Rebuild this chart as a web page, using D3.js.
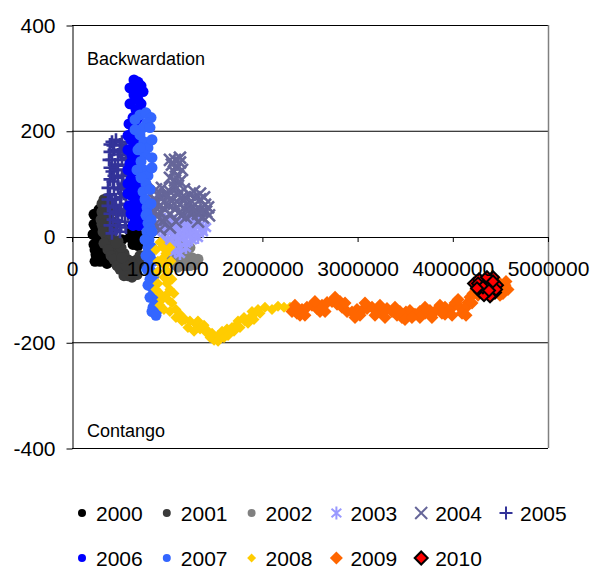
<!DOCTYPE html>
<html>
<head>
<meta charset="utf-8">
<script src="https://cdn.jsdelivr.net/npm/d3@7"></script>
<style>
body { margin: 0; background: #fff; }
text { font-family: "Liberation Sans", Arial, sans-serif; fill: #000; }
</style>
</head>
<body>
<svg width="605" height="569"></svg>
<script>
// series names, one per year
var years = ["2000", "2001", "2002", "2003", "2004", "2005", "2006", "2007", "2008", "2009", "2010"];

// [x, y] points
var y2000 = [[294000, 42], [273000, 30], [252000, 17], [252000, 4], [263000, -9], [284000, -23], [305000, -34],
  [336000, -45], [368000, -51], [347000, -36], [326000, -21], [305000, -6], [284000, 9], [305000, 25], [326000, 36],
  [357000, 21], [378000, 2], [242000, -25], [263000, -40], [294000, -47], [452000, -15], [525000, -6],
  [231000, 42], [231000, 23], [221000, 4], [231000, -15], [252000, -34], [284000, 51], [336000, 47], [357000, 36],
  [378000, 17], [357000, -13], [336000, -28], [378000, -40], [399000, -47], [263000, 28], [294000, 13],
  [315000, 2], [273000, -6], [242000, -47],
  [609000, 13], [651000, 2], [683000, -9], [641000, -15], [609000, -2], [672000, 13], [704000, 2], [630000, 17],
  [693000, -17]];
var y2001 = [[336000, 70], [368000, 72], [336000, 58], [315000, 47], [305000, 32], [326000, 17], [357000, 2],
  [389000, -6], [420000, 2], [399000, 17], [378000, 32], [357000, 51], [420000, -15], [452000, -25], [483000, -34],
  [504000, -47], [536000, -58], [567000, -66], [599000, -58], [578000, -43], [546000, -32], [515000, -21],
  [483000, -9], [609000, -47], [651000, -47], [693000, -43], [735000, -40], [767000, -36], [714000, -51],
  [651000, -62], [630000, -77], [683000, -72], [588000, -74],
  [315000, 62], [399000, 64], [326000, 42], [410000, 47], [315000, 23], [420000, 28], [326000, 9], [431000, 13],
  [336000, -13], [378000, -25], [410000, -36], [441000, -43], [473000, -55], [504000, -62], [546000, -74],
  [609000, -70], [672000, -58], [746000, -47], [777000, -47], [714000, -36], [567000, -55], [462000, -13],
  [525000, -40]];
var y2002 = [[977000, 23], [1029000, 13], [1082000, -2], [1050000, -15], [1113000, -25], [1166000, -34],
  [1218000, -43], [1134000, -47], [1082000, -53], [1187000, -55], [1260000, -40], [1239000, -21], [1155000, -6],
  [1092000, 9], [1008000, 28], [1292000, -53], [1029000, -40], [1113000, -58], [1239000, -55], [1323000, -43],
  [1187000, -25]];
var y2003 = [[924000, 23], [977000, 32], [1029000, 32], [1082000, 28], [1134000, 28], [1187000, 32], [1239000, 36],
  [1292000, 28], [1345000, 21], [1376000, 9], [1323000, -2], [1260000, -6], [1197000, -13], [1134000, -21],
  [1082000, -28], [1029000, -25], [987000, -13], [945000, -2], [1008000, 9], [1071000, 13], [1134000, 4],
  [1218000, 9], [1282000, 13], [1187000, 21], [1113000, 21], [1050000, -6],
  [956000, 13], [998000, 21], [1050000, 25], [1113000, 13], [1176000, 13], [1239000, 21], [1302000, 21],
  [1355000, 13], [1302000, 6], [1239000, 2], [1176000, -2], [1113000, -9], [1050000, -17], [1008000, -6],
  [1092000, 2], [1197000, -21], [1134000, -32], [1408000, 17], [956000, -13], [1345000, 36], [1260000, 28]];
var y2004 = [[1082000, 145], [1134000, 140], [1092000, 132], [1071000, 123], [1113000, 115], [1082000, 106],
  [1061000, 96], [1029000, 85], [977000, 79], [924000, 74], [872000, 70], [840000, 60], [872000, 47], [840000, 32],
  [924000, 58], [977000, 51], [1029000, 43], [1082000, 51], [1134000, 60], [1187000, 74], [1239000, 79],
  [1292000, 74], [1345000, 70], [1397000, 60], [1408000, 47], [1376000, 36], [1323000, 28], [1260000, 42],
  [1197000, 51], [1145000, 40], [1092000, 28], [1029000, 17], [945000, 28], [903000, 40], [1008000, 60],
  [1113000, 79], [1218000, 60], [1302000, 51],
  [1029000, 145], [1134000, 149], [1050000, 136], [1155000, 126], [1029000, 111], [1134000, 104], [1103000, 92],
  [882000, 89], [945000, 92], [1008000, 77], [1176000, 89], [1282000, 85], [1345000, 81], [1387000, 74],
  [1429000, 55], [1439000, 40], [1345000, 51], [1239000, 51], [1134000, 47], [1071000, 62], [966000, 66],
  [882000, 62], [840000, 47], [861000, 21], [924000, 13], [987000, 32], [819000, 79], [1323000, 43],
  [1197000, 36], [903000, 79], [1029000, 70], [1155000, 74], [1260000, 66], [1366000, 47], [924000, 47],
  [819000, 51]];
var y2005 = [[420000, 179], [462000, 183], [504000, 174], [441000, 164], [483000, 155], [525000, 145], [452000, 136],
  [420000, 123], [483000, 111], [536000, 100], [441000, 92], [399000, 79], [462000, 70], [515000, 60], [557000, 51],
  [483000, 43], [431000, 32], [504000, 21], [557000, 28], [588000, 42], [567000, 79], [578000, 117], [546000, 164],
  [399000, 108], [389000, 145],
  [399000, 174], [525000, 179], [567000, 168], [399000, 160], [504000, 160], [420000, 145], [567000, 149],
  [483000, 134], [546000, 126], [399000, 130], [441000, 115], [525000, 115], [578000, 102], [483000, 92],
  [378000, 92], [546000, 81], [420000, 70], [504000, 74], [378000, 58], [567000, 62], [441000, 55], [399000, 43],
  [525000, 40], [483000, 28], [399000, 21], [567000, 17], [462000, 13],
  [431000, 172], [473000, 126], [515000, 89], [431000, 104], [557000, 96], [462000, 47], [546000, 51],
  [420000, 6], [378000, 70], [504000, 9]];
var y2006 = [[651000, 296], [693000, 292], [725000, 285], [683000, 277], [651000, 268], [693000, 259], [725000, 251],
  [672000, 240], [641000, 225], [672000, 211], [641000, 198], [620000, 183], [651000, 168], [630000, 153],
  [609000, 138], [641000, 123], [620000, 108], [651000, 92], [630000, 77], [662000, 62], [683000, 47], [714000, 36],
  [746000, 25], [704000, 21], [662000, 32], [693000, 77], [672000, 145], [662000, 183],
  [609000, 281], [746000, 274], [609000, 251], [735000, 236], [599000, 213], [704000, 206], [588000, 191],
  [714000, 183], [588000, 164], [693000, 157], [588000, 126], [683000, 134], [588000, 100], [693000, 104],
  [588000, 81], [704000, 89], [599000, 58], [714000, 58], [620000, 43], [735000, 47], [641000, 21], [767000, 36],
  [693000, 225], [714000, 123]];
var y2007 = [[714000, 230], [777000, 234], [830000, 225], [788000, 215], [746000, 206], [714000, 192], [756000, 179],
  [798000, 168], [767000, 155], [725000, 142], [756000, 126], [798000, 115], [777000, 100], [746000, 85],
  [767000, 70], [788000, 55], [777000, 40], [798000, 25], [788000, 9], [809000, -6], [798000, -21], [819000, -36],
  [809000, -51], [830000, -66], [819000, -81], [840000, -96], [851000, -111], [872000, -126], [893000, -140],
  [851000, -134], [662000, 202], [693000, 164], [683000, 126],
  [662000, 221], [819000, 206], [840000, 183], [714000, 168], [840000, 149], [725000, 111], [840000, 130],
  [819000, 89], [830000, 62], [788000, 43], [830000, 32], [819000, 17], [840000, 9], [767000, -6], [840000, -21],
  [777000, -36], [851000, -47], [788000, -62], [861000, -74], [798000, -92], [872000, -104], [819000, -115],
  [903000, -119], [840000, -142], [882000, -149]];
var y2008 = [[924000, -11], [956000, -21], [987000, -32], [945000, -43], [977000, -55], [1008000, -66],
  [966000, -77], [903000, -89], [998000, -89], [1029000, -100], [987000, -111], [945000, -119], [924000, -130],
  [1008000, -119], [1050000, -126], [1092000, -138], [1134000, -147], [1187000, -157], [1239000, -160],
  [1302000, -166], [1345000, -175], [1408000, -181], [1450000, -191], [1492000, -196], [1534000, -187],
  [1576000, -179], [1628000, -175], [1681000, -172], [1723000, -168], [1765000, -172], [1817000, -160],
  [1870000, -153], [1922000, -145], [1954000, -138], [2027000, -134], [2101000, -138], [2164000, -132],
  [2227000, -134], [2290000, -134],
  [882000, -25], [1029000, -21], [903000, -47], [1040000, -47], [903000, -66], [1050000, -81], [882000, -100],
  [1071000, -108], [924000, -108], [966000, -138], [1029000, -142], [1092000, -153], [1155000, -160],
  [1218000, -172], [1282000, -179], [1323000, -160], [1387000, -168], [1429000, -179], [1471000, -183],
  [1534000, -198], [1597000, -191], [1639000, -187], [1702000, -179], [1744000, -160], [1807000, -153],
  [1849000, -164], [1912000, -157], [1975000, -145], [1891000, -142]];
var y2009 = [[2311000, -142], [2363000, -145], [2416000, -138], [2468000, -134], [2521000, -130], [2573000, -136],
  [2626000, -130], [2679000, -125], [2731000, -123], [2784000, -128], [2836000, -134], [2889000, -142],
  [2941000, -143], [2994000, -138], [3046000, -140], [3099000, -136], [3151000, -134], [3204000, -140],
  [3256000, -143], [3309000, -136], [3361000, -142], [3414000, -149], [3466000, -153], [3508000, -143],
  [3550000, -140], [3603000, -147], [3655000, -142], [3708000, -145], [3760000, -140], [3813000, -142],
  [3865000, -130], [3918000, -134], [3971000, -138], [4023000, -126], [4076000, -134], [4128000, -136],
  [4160000, -125], [4181000, -115], [4212000, -108], [4244000, -100], [4286000, -94], [4338000, -94],
  [4391000, -98], [4443000, -100], [4496000, -94], [4548000, -92], [4580000, -100], [4527000, -108],
  [4475000, -85], [2395000, -149], [2605000, -142], [2815000, -123], [3025000, -149], [3235000, -130],
  [3445000, -142], [3655000, -153], [3918000, -147], [4097000, -145],
  [2342000, -130], [2447000, -149], [2552000, -123], [2658000, -142], [2763000, -115], [2868000, -126],
  [2973000, -153], [3078000, -126], [3183000, -149], [3288000, -153], [3393000, -134], [3498000, -157],
  [3571000, -153], [3708000, -134], [3781000, -153], [3886000, -145], [3992000, -149], [4055000, -119],
  [4139000, -149], [4202000, -126], [4265000, -111], [4328000, -108], [4412000, -111], [4496000, -111],
  [4559000, -85], [4454000, -89]];
var y2010 = [[4296000, -91], [4338000, -85], [4370000, -81], [4401000, -89], [4433000, -96], [4443000, -106],
  [4412000, -104], [4370000, -108], [4338000, -104], [4307000, -100], [4391000, -96], [4349000, -92],
  [4223000, -89], [4275000, -81], [4422000, -77], [4464000, -92], [4391000, -113],
  [4286000, -104], [4328000, -111], [4359000, -77], [4454000, -100], [4265000, -89], [4317000, -96],
  [4380000, -102], [4422000, -85], [4254000, -98]];

var seriesData = [y2000, y2001, y2002, y2003, y2004, y2005, y2006, y2007, y2008, y2009, y2010];
var colors = ["#000000", "#3a3a3a", "#808080", "#9999ff", "#666699", "#333399", "#0000ff", "#3366ff", "#ffcc00", "#ff6600", "#ff0000"];
var shapes = ["circle", "circle", "circle", "star", "cross", "plus", "circle", "circle", "diamond", "diamond", "diamond"];
var sizes = [11, 11, 11, 13, 12, 13, 11, 11, 11, 13, 12];
var legendSizes = [8, 8, 8, 13, 12, 13, 8, 8, 9, 13, 13];

var xTicks = [0, 1000000, 2000000, 3000000, 4000000, 5000000];
var yTicks = [-400, -200, 0, 200, 400];

var svg = d3.select("svg");
var x = d3.scaleLinear().domain([0, 5000000]).range([72, 548]);
var y = d3.scaleLinear().domain([-400, 400]).range([448, 25]);

// gridlines + frame
svg.append("g").selectAll("line")
    .data(yTicks.filter(function (d) { return d !== 0; }))
    .enter().append("line")
    .attr("x1", x(0)).attr("x2", x(5000000))
    .attr("y1", function (d) { return y(d) + 0.5; })
    .attr("y2", function (d) { return y(d) + 0.5; })
    .attr("stroke", "#000");
svg.append("line")
    .attr("x1", x(5000000) + 0.5).attr("x2", x(5000000) + 0.5)
    .attr("y1", y(400)).attr("y2", y(-400))
    .attr("stroke", "#808080").attr("stroke-width", 1.5);

// axes (lines only, x labels come later on top of the marks)
var yAxis = d3.axisLeft(y).tickValues(yTicks).tickSize(6).tickSizeOuter(0).tickPadding(11)
    .tickFormat(function (d) { return String(d); });
var yG = svg.append("g")
    .attr("transform", "translate(" + (x(0) + 0.5) + ",0.5)")
    .call(yAxis);
yG.selectAll("text").style("font-size", "21px");

var xAxisLines = d3.axisBottom(x).tickValues(xTicks).tickSize(5).tickSizeOuter(0).tickFormat("");
svg.append("g")
    .attr("transform", "translate(0," + (y(0) + 0.5) + ")")
    .call(xAxisLines);

// marker drawing
function drawMarker(g, shape, color, size, outline, lineW) {
    var h = size / 2;
    if (shape === "circle") {
        g.append("circle").attr("r", h).attr("fill", color);
    } else if (shape === "diamond") {
        g.append("path")
            .attr("d", "M0," + (-h) + "L" + h + ",0L0," + h + "L" + (-h) + ",0Z")
            .attr("fill", color)
            .attr("stroke", outline ? "#000" : "none")
            .attr("stroke-width", outline ? 2 : 0);
    } else {
        var d;
        if (shape === "star") {
            var a = h * 0.75, b = h * 0.65;
            d = "M0," + (-h) + "L0," + h + "M" + (-a) + "," + (-b) + "L" + a + "," + b + "M" + (-a) + "," + b + "L" + a + "," + (-b);
        } else if (shape === "cross") {
            d = "M" + (-h) + "," + (-h) + "L" + h + "," + h + "M" + (-h) + "," + h + "L" + h + "," + (-h);
        } else {
            d = "M" + (-h) + ",0L" + h + ",0M0," + (-h) + "L0," + h;
        }
        g.append("path").attr("d", d).attr("fill", "none")
            .attr("stroke", color).attr("stroke-width", lineW);
    }
}

// points, year by year
var plot = svg.append("g");
seriesData.forEach(function (pts, i) {
    plot.append("g").selectAll("g")
        .data(pts)
        .enter().append("g")
        .attr("transform", function (d) { return "translate(" + x(d[0]) + "," + y(d[1]) + ")"; })
        .each(function () {
            drawMarker(d3.select(this), shapes[i], colors[i], sizes[i], years[i] === "2010", 2.6);
        });
});

// x tick labels drawn over the marks
var xAxisLabels = d3.axisBottom(x).tickValues(xTicks).tickSize(0).tickPadding(25)
    .tickFormat(function (d) { return String(d); });
var xG = svg.append("g")
    .attr("transform", "translate(0," + y(0) + ")")
    .call(xAxisLabels);
xG.select(".domain").remove();
xG.selectAll("text").style("font-size", "21px");

// annotations
svg.append("text").attr("x", 87).attr("y", 65).style("font-size", "18px").text("Backwardation");
svg.append("text").attr("x", 87).attr("y", 437).style("font-size", "18px").text("Contango");

// legend
var legend = svg.append("g");
years.forEach(function (yr, i) {
    var cx = 82 + (i % 6) * 84.8;
    var cy = i < 6 ? 513 : 558;
    var item = legend.append("g").attr("transform", "translate(" + cx + "," + cy + ")");
    drawMarker(item, shapes[i], colors[i], legendSizes[i], yr === "2010", 2);
    legend.append("text")
        .attr("x", cx + 14).attr("y", cy + 7.5)
        .style("font-size", "21px")
        .text(yr);
});
</script>
</body>
</html>
